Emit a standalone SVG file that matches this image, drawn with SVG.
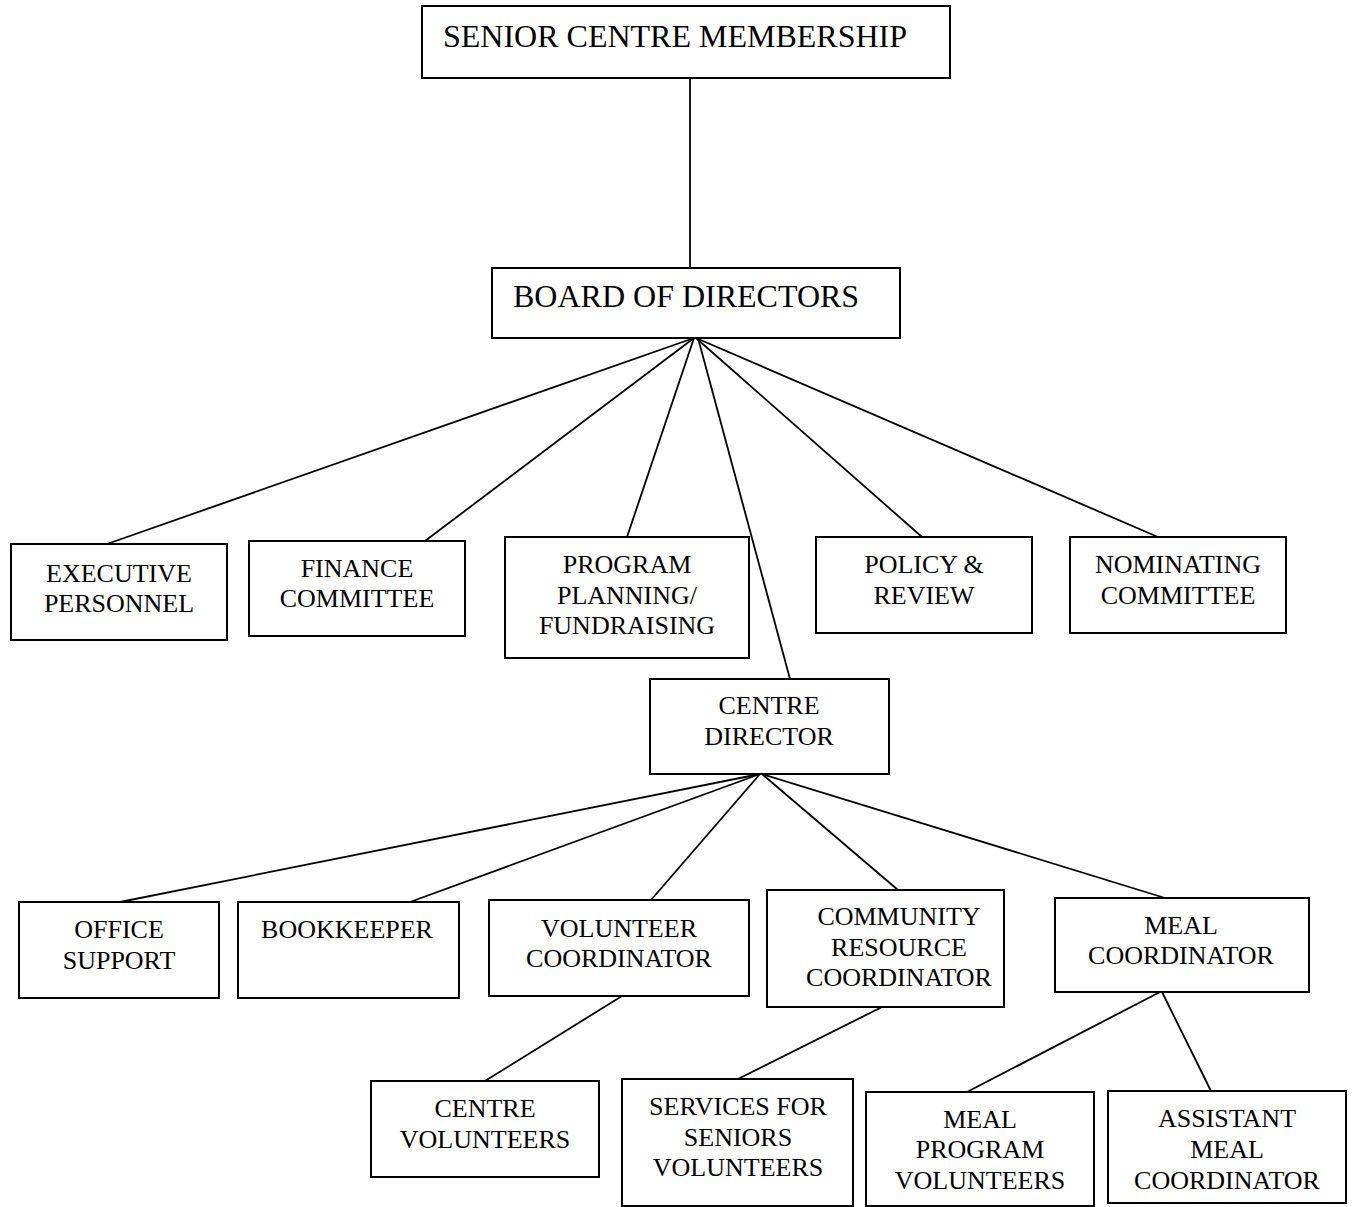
<svg xmlns="http://www.w3.org/2000/svg" width="1358" height="1207" viewBox="0 0 1358 1207">
<style>
rect{fill:#fff;stroke:#000;stroke-width:2}
line{stroke:#000;stroke-width:1.8}
text{font-family:"Liberation Serif","Times New Roman",serif;font-size:26px;fill:#000;text-anchor:middle}
text.big{font-size:32px;text-anchor:start}
</style>
<rect x="0" y="0" width="1358" height="1207" style="stroke:none"/>
<g id="connectors">
<line x1="690" y1="78" x2="690" y2="268"/>
<line x1="694" y1="338" x2="107" y2="544"/>
<line x1="694" y1="338" x2="425" y2="541"/>
<line x1="694" y1="338" x2="627" y2="537"/>
<line x1="698" y1="338" x2="790" y2="679"/>
<line x1="696" y1="338" x2="922" y2="537"/>
<line x1="696" y1="338" x2="1158" y2="537"/>
<line x1="760" y1="774" x2="120" y2="902"/>
<line x1="760" y1="774" x2="410" y2="902"/>
<line x1="760" y1="774" x2="651" y2="900"/>
<line x1="762" y1="774" x2="898" y2="890"/>
<line x1="762" y1="774" x2="1165" y2="898"/>
<line x1="622" y1="996" x2="485" y2="1081"/>
<line x1="882" y1="1007" x2="738" y2="1079"/>
<line x1="1160" y1="992" x2="967" y2="1092"/>
<line x1="1162" y1="992" x2="1211" y2="1091"/>
</g>
<g id="membership"><rect x="422" y="6" width="528" height="72"/><text class="big" x="443" y="47">SENIOR CENTRE MEMBERSHIP</text></g>
<g id="board"><rect x="492" y="268" width="408" height="70"/><text class="big" x="513" y="307">BOARD OF DIRECTORS</text></g>
<g id="executive"><rect x="11" y="544" width="216" height="96"/><text x="119" y="582">EXECUTIVE</text><text x="119" y="612">PERSONNEL</text></g>
<g id="finance"><rect x="249" y="541" width="216" height="95"/><text x="357" y="577">FINANCE</text><text x="357" y="607">COMMITTEE</text></g>
<g id="program"><rect x="505" y="537" width="244" height="121"/><text x="627" y="573">PROGRAM</text><text x="627" y="604">PLANNING/</text><text x="627" y="634">FUNDRAISING</text></g>
<g id="policy"><rect x="816" y="537" width="216" height="96"/><text x="924" y="573">POLICY &amp;</text><text x="924" y="604">REVIEW</text></g>
<g id="nominating"><rect x="1070" y="537" width="216" height="96"/><text x="1178" y="573">NOMINATING</text><text x="1178" y="604">COMMITTEE</text></g>
<g id="centre-director"><rect x="650" y="679" width="239" height="95"/><text x="769" y="714">CENTRE</text><text x="769" y="745">DIRECTOR</text></g>
<g id="office-support"><rect x="19" y="902" width="200" height="96"/><text x="119" y="938">OFFICE</text><text x="119" y="969">SUPPORT</text></g>
<g id="bookkeeper"><rect x="238" y="902" width="221" height="96"/><text x="347" y="938">BOOKKEEPER</text></g>
<g id="volunteer-coordinator"><rect x="489" y="900" width="260" height="96"/><text x="619" y="937">VOLUNTEER</text><text x="619" y="967">COORDINATOR</text></g>
<g id="community-resource"><rect x="767" y="890" width="237" height="117"/><text x="899" y="925">COMMUNITY</text><text x="899" y="956">RESOURCE</text><text x="899" y="986">COORDINATOR</text></g>
<g id="meal-coordinator"><rect x="1055" y="898" width="254" height="94"/><text x="1181" y="934">MEAL</text><text x="1181" y="964">COORDINATOR</text></g>
<g id="centre-volunteers"><rect x="371" y="1081" width="228" height="96"/><text x="485" y="1117">CENTRE</text><text x="485" y="1148">VOLUNTEERS</text></g>
<g id="services-volunteers"><rect x="622" y="1079" width="231" height="127"/><text x="738" y="1115">SERVICES FOR</text><text x="738" y="1146">SENIORS</text><text x="738" y="1176">VOLUNTEERS</text></g>
<g id="meal-program-volunteers"><rect x="866" y="1092" width="228" height="114"/><text x="980" y="1128">MEAL</text><text x="980" y="1158">PROGRAM</text><text x="980" y="1189">VOLUNTEERS</text></g>
<g id="assistant-meal"><rect x="1108" y="1091" width="238" height="112"/><text x="1227" y="1127">ASSISTANT</text><text x="1227" y="1158">MEAL</text><text x="1227" y="1189">COORDINATOR</text></g>
</svg>
